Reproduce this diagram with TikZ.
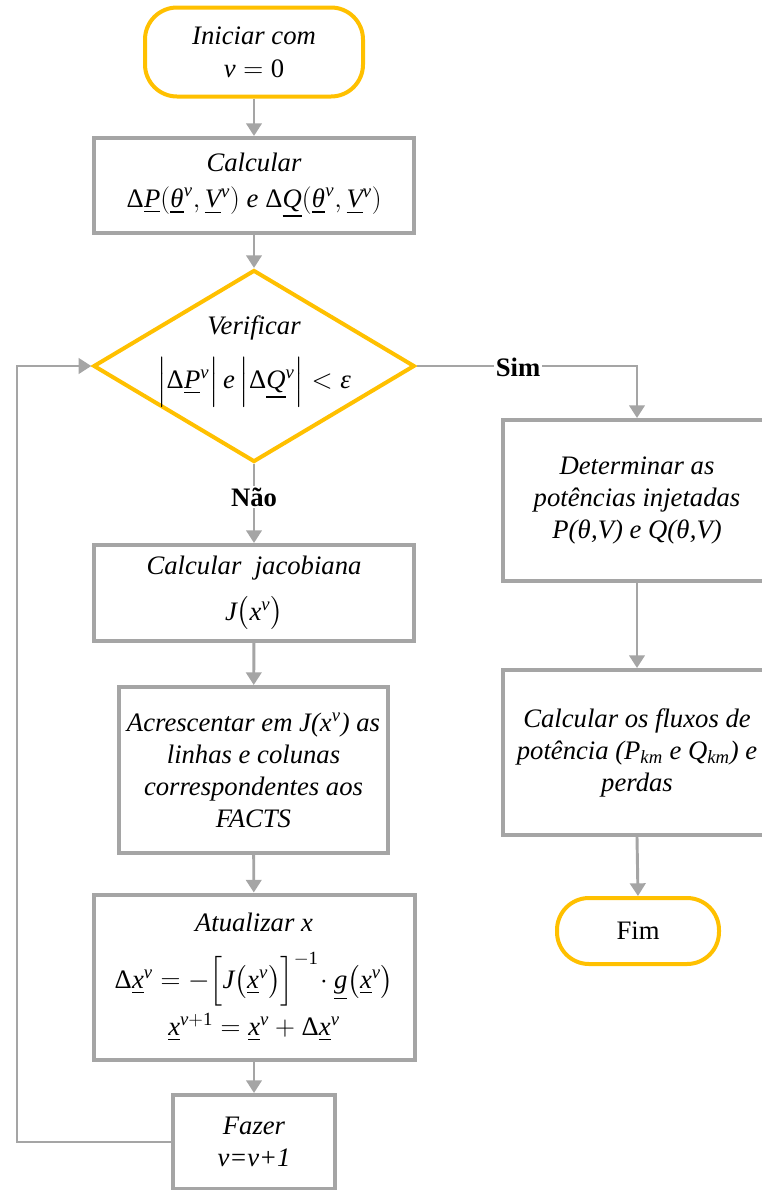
\documentclass[tikz,border=0pt]{standalone}
\usepackage{amsmath}
\usepackage{mathspec}
\setallmainfonts(Digits,Latin,Greek){Liberation Serif}
\newfontfamily\tnr{Liberation Serif}
\usetikzlibrary{shapes.geometric,arrows.meta}
\definecolor{orng}{HTML}{FFC000}
\definecolor{gry}{HTML}{A5A5A5}
\begin{document}
\begin{tikzpicture}[x=0.75pt,y=-0.75pt,
  font=\tnr\fontsize{20}{24}\selectfont,
  box/.style={draw=gry,line width=3pt,fill=white,align=center,inner sep=0pt},
  term/.style={draw=orng,line width=3pt,fill=white,align=center,inner sep=0pt,rounded corners=24pt},
  arr/.style={draw=gry,line width=2.2pt,-{Triangle[width=11.5pt,length=9.5pt]}},
  lbl/.style={fill=white,inner sep=1pt,font=\tnr\fontsize{20}{24}\selectfont\bfseries}]
\useasboundingbox (0,0) rectangle (762,1190);
\begin{scope}
\clip (0,0) rectangle (762,1190);
\node[term,minimum width=163.5pt,minimum height=66.75pt] (start) at (254,52)
  {\itshape Iniciar com\\[1pt] $v=0$};
\node[box,minimum width=240pt,minimum height=71.25pt] (calc) at (254,185.5)
  {\itshape Calcular\\[3pt] $\Delta\underline{P}(\underline{\theta}^v,\underline{V}^v)$ \textit{e} $\Delta\underline{Q}(\underline{\theta}^v,\underline{V}^v)$};
\node[draw=orng,line width=3pt,fill=white,shape=diamond,inner sep=0pt,minimum width=241pt,minimum height=144pt] (dia) at (254,366) {};
\node[align=center,inner sep=0pt] (diat) at (254,361)
  {\itshape Verificar\\[12pt] $\Bigl|\Delta\underline{P}^v\Bigr|\, \mathit{e}\, \Bigl|\Delta\underline{Q}^v\Bigr| < \mbox{\itshape ε}$};
\node[box,minimum width=240pt,minimum height=72pt] (jac) at (254,593)
  {\itshape Calcular\ \ jacobiana\\[10pt] $J\bigl(x^v\bigr)$};
\node[box,minimum width=201.75pt,minimum height=124.5pt] (acr) at (253.5,770)
  {\itshape Acrescentar em J(x\textsuperscript{v}) as\\ \itshape linhas e colunas\\ \itshape correspondentes aos\\ \itshape FACTS};
\node[box,minimum width=240.75pt,minimum height=123.75pt] (atu) at (254,977)
  {\itshape Atualizar x\\[14pt] $\Delta\underline{x}^v = -\Bigl[J\bigl(\underline{x}^v\bigr)\Bigr]^{-1}\!\cdot\underline{g}\bigl(\underline{x}^v\bigr)$\\[4pt] $\underline{x}^{v+1}=\underline{x}^v+\Delta\underline{x}^v$};
\node[box,minimum width=121.5pt,minimum height=70.5pt] (faz) at (254,1142)
  {\itshape Fazer\\ \itshape v=v+1};
\node[box,minimum width=201pt,minimum height=120.75pt] (det) at (637,500.5)
  {\itshape Determinar as\\ \itshape potências injetadas\\ \itshape P($\theta$,V) e Q($\theta$,V)};
\node[box,minimum width=201pt,minimum height=123.75pt] (flux) at (637,752.5)
  {\itshape Calcular os fluxos de\\ \itshape potência (P\textsubscript{km} e Q\textsubscript{km}) e\\ \itshape perdas};
\node[term,minimum width=121.5pt,minimum height=49.5pt] (fim) at (638,931) {Fim};
\coordinate (fbl) at (17,366);
\draw[arr] (start) -- (calc);
\draw[arr] (calc) -- (dia.north);
\draw[arr] (dia.south) -- (jac);
\draw[arr] (jac) -- (acr);
\draw[arr] (acr) -- (atu);
\draw[arr] (atu) -- (faz);
\draw[arr] (faz.west) -| (fbl) -- (dia.west);
\draw[arr] (dia.east) -| (det.north);
\draw[arr] (det) -- (flux);
\draw[arr] (flux.south) -- (fim.north);
\node[lbl] (nao) at (254,497) {Não};
\node[lbl] (sim) at (518,367) {Sim};
\end{scope}
\end{tikzpicture}
\end{document}
